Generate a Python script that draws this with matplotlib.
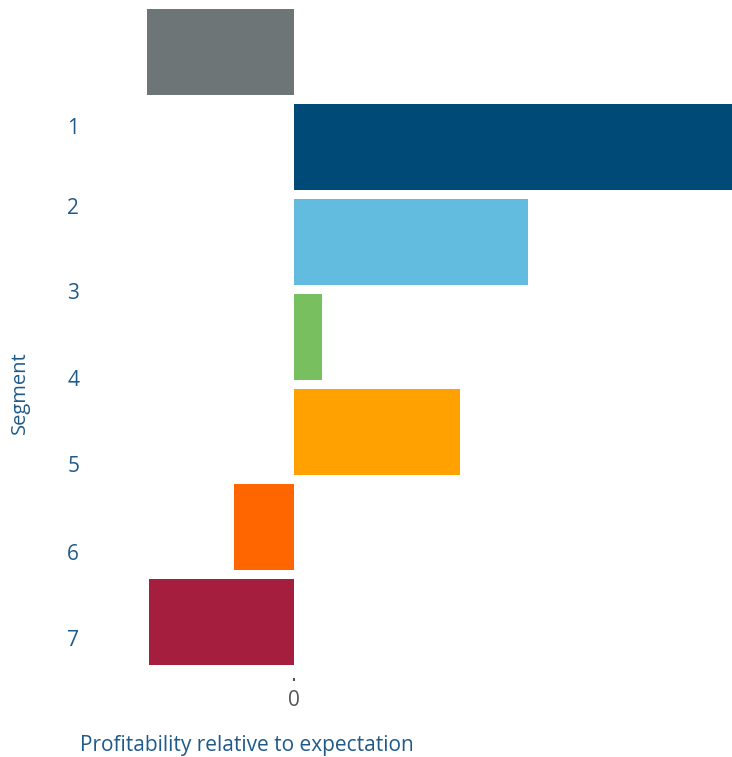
import numpy as np
import matplotlib
matplotlib.use("Agg")
import matplotlib.pyplot as plt

plt.rcParams['font.family'] = ['Open Sans', 'DejaVu Sans']

# profitability relative to expectation (arbitrary units, 0 = expectation)
segments = ["", "1", "2", "3", "4", "5", "6"]
profit = [-1.47, 4.6, 2.34, 0.28, 1.66, -0.60, -1.45]
colors = ["#6e7577", "#004a77", "#62bce0", "#78bf5f", "#ffa100", "#ff6600", "#a51e3e"]
tick_labels = ["1", "2", "3", "4", "5", "6", "7"]

W, H = 732, 757
fig = plt.figure(figsize=(W / 100, H / 100), dpi=100)

# axes placed in pixel terms
left, right, top, bottom = 100, 732, 0, 678
ax = fig.add_axes([left / W, 1 - bottom / H, (right - left) / W, (bottom - top) / H])

ypos = np.arange(len(profit))
ax.barh(ypos, profit, height=0.9, color=colors, edgecolor="none")

ax.set_xlim((left - 294) / 100, (right - 294) / 100)
ax.set_ylim((bottom - 52) / 95, (top - 52) / 95)

for s in ax.spines.values():
    s.set_visible(False)

# the segment labels sit a little off the bars in the original
tick_px = np.array([126, 205.5, 291, 378, 464, 552, 638])
label_color = "#1f5a8a"
ax.set_yticks((tick_px - 52) / 95)
ax.set_yticklabels(tick_labels, fontsize=15, color=label_color)
ax.tick_params(axis="y", length=0, pad=15)

ax.set_xticks([0])
ax.set_xticklabels(["0"], fontsize=15, color="#555555")
ax.tick_params(axis="x", length=2, width=1.5, color="#555555", pad=7)

fig.text(20 / W, 1 - 393 / H, "Segment", rotation=90, ha="center", va="center",
         fontsize=14.5, color=label_color)
fig.text(80 / W, 1 - 746 / H, "Profitability relative to expectation", ha="left", va="center",
         fontsize=15, color=label_color)

fig.savefig("out.png", dpi=100)
